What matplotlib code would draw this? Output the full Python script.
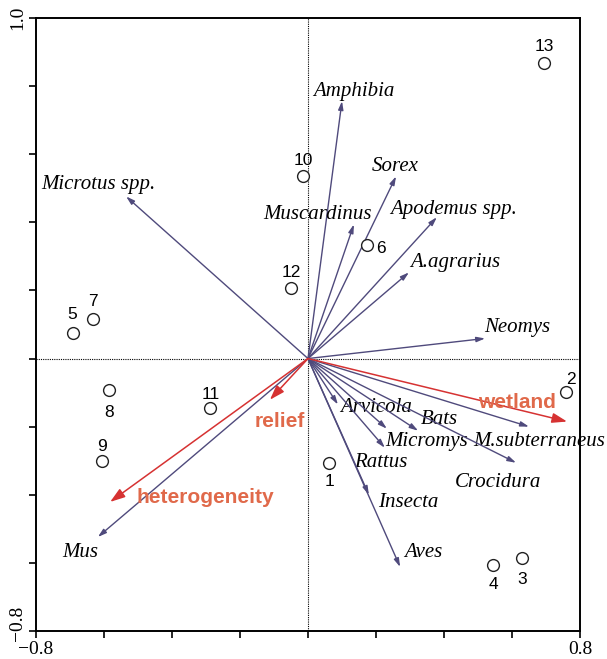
import numpy as np
import matplotlib
matplotlib.use('Agg')
import matplotlib.pyplot as plt
from matplotlib.transforms import ScaledTranslation

# species scores (arrow tips)
species = ['Amphibia', 'Sorex', 'Muscardinus', 'Apodemus spp.', 'A.agrarius',
           'Neomys', 'Microtus spp.', 'Mus', 'Arvicola', 'Rattus', 'Bats',
           'Micromys', 'M.subterraneus', 'Crocidura', 'Insecta', 'Aves']
sp_x = [0.100, 0.259, 0.135, 0.379, 0.297, 0.521, -0.535, -0.618, 0.088,
        0.232, 0.324, 0.226, 0.650, 0.612, 0.179, 0.271]
sp_y = [0.756, 0.535, 0.394, 0.415, 0.253, 0.059, 0.476, -0.524, -0.135,
        -0.206, -0.212, -0.262, -0.200, -0.306, -0.400, -0.612]

# environmental variables
env = ['wetland', 'relief', 'heterogeneity']
env_x = [0.762, -0.112, -0.582]
env_y = [-0.185, -0.121, -0.421]

# sites
sites = ['1', '2', '3', '4', '5', '6', '7', '8', '9', '10', '11', '12', '13']
site_x = [0.062, 0.759, 0.629, 0.544, -0.691, 0.174, -0.632, -0.585, -0.606,
          -0.015, -0.288, -0.050, 0.694]
site_y = [-0.306, -0.097, -0.585, -0.606, 0.076, 0.332, 0.115, -0.091,
          -0.300, 0.535, -0.144, 0.206, 0.868]

# label offsets (pixels)
sp_off = [(-29, 10), (-24, 10), (-91, 10), (-47, 8), (1, 10), (-1, 11),
          (-85, 12), (-36, -16), (2, -3), (-33, -34), (3, 11), (0, 6),
          (-56, -15), (-61, -20), (9, -8), (4, 14)]
env_off = [(-50, 19), (10, -22), (95, 4)]
site_off = [(0, -19), (5, 12), (0, -22), (0, -20), (-1, 18), (14, -3),
            (0, 18), (0, -23), (0, 14), (0, 16), (1, 13), (0, 16), (0, 16)]

sp_col = '#4f4a7c'
env_col = '#d63232'
env_txt = '#e0694a'

fig = plt.figure(figsize=(6.07, 6.59), dpi=100)
ax = fig.add_axes([0.0593, 0.0425, 0.8962, 0.9302])
ax.set_xlim(-0.8, 0.8)
ax.set_ylim(-0.8, 1.0)

# dotted axes through the origin
ax.axhline(0, color='black', lw=0.8, ls=(0, (1, 1)), zorder=1)
ax.axvline(0, color='black', lw=0.8, ls=(0, (1, 1)), zorder=1)

for name, x, y, off in zip(species, sp_x, sp_y, sp_off):
    ax.annotate('', xy=(x, y), xytext=(0, 0),
                arrowprops=dict(arrowstyle='-|>,head_length=0.5,head_width=0.15',
                                color=sp_col, lw=1.0, shrinkA=0, shrinkB=0))
    ax.annotate(name, xy=(x, y), xytext=off, textcoords='offset pixels',
                ha='left', va='center', fontsize=15, style='italic',
                family='Liberation Serif', annotation_clip=False)

for name, x, y, off in zip(env, env_x, env_y, env_off):
    ax.annotate('', xy=(x, y), xytext=(0, 0),
                arrowprops=dict(arrowstyle='-|>,head_length=0.9,head_width=0.3',
                                color=env_col, lw=1.1, shrinkA=0, shrinkB=0))
    ax.annotate(name, xy=(x, y), xytext=off, textcoords='offset pixels',
                ha='center', va='center', fontsize=15, fontweight='bold',
                color=env_txt, family='Liberation Sans')

ax.plot(site_x, site_y, 'o', mfc='white', mec='#222222', ms=8.5, mew=1.0, zorder=3)
for name, x, y, off in zip(sites, site_x, site_y, site_off):
    ax.annotate(name, xy=(x, y), xytext=off, textcoords='offset pixels',
                ha='center', va='center', fontsize=12.5, family='Liberation Sans')

ax.set_xticks(np.arange(-0.8, 0.81, 0.2))
ax.set_yticks(np.arange(-0.8, 1.01, 0.2))
ax.set_xticklabels(['\u22120.8', '', '', '', '', '', '', '', '0.8'],
                   family='Liberation Serif', fontsize=14)
ax.set_yticklabels(['\u22120.8', '', '', '', '', '', '', '', '', '1.0'],
                   family='Liberation Serif', fontsize=14, rotation=90, va='center')
ax.tick_params(direction='out', length=5, width=1.2, pad=2)
for s in ax.spines.values():
    s.set_linewidth(1.4)

# nudge the lower y label up so it clears the x label
lbl = ax.yaxis.get_major_ticks()[0].label1
lbl.set_transform(lbl.get_transform() + ScaledTranslation(0, 0.08, fig.dpi_scale_trans))

plt.savefig('out.png', dpi=100)
